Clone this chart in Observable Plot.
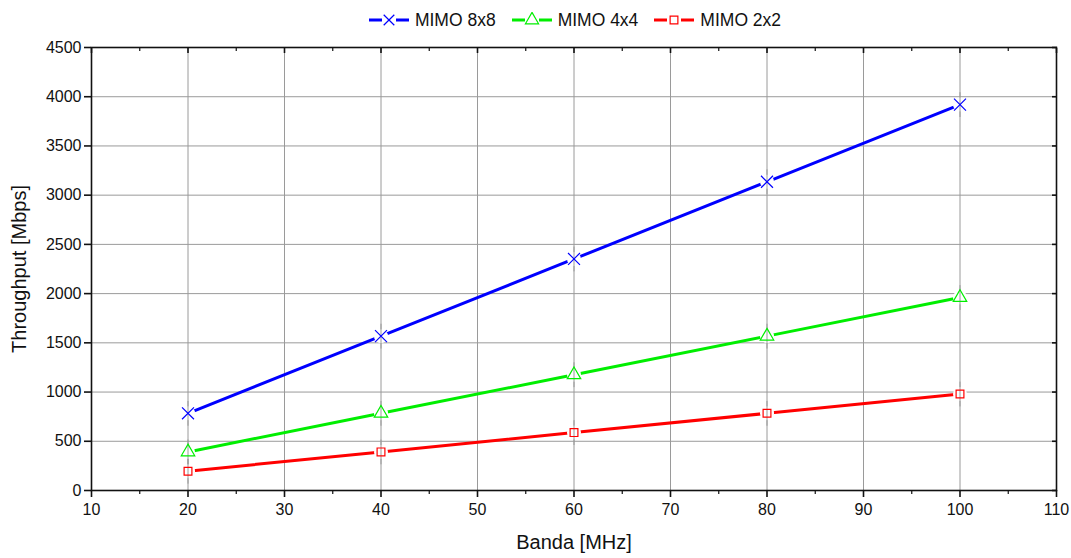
<!DOCTYPE html>
<html>
<head>
<meta charset="utf-8">
<script src="https://cdn.jsdelivr.net/npm/d3@7"></script>
<script src="https://cdn.jsdelivr.net/npm/@observablehq/plot@0.6"></script>
<style>
  body { margin: 0; background: #fff; font-family: "Liberation Sans", Arial, sans-serif; }
  #legend { height: 40px; display: flex; justify-content: center; align-items: center; gap: 15px; font-size: 17.5px; color: #111; padding-left: 78px; box-sizing: border-box; }
  #legend .item { display: flex; align-items: center; gap: 5px; }
  #legend svg { display: block; }
</style>
</head>
<body>
<div id="legend"></div>
<div id="chart"></div>
<script>
const bandwidth = [20, 40, 60, 80, 100];
const mimo8x8 = [784, 1568, 2352, 3136, 3920];
const mimo4x4 = [392, 784, 1176, 1568, 1960];
const mimo2x2 = [196, 392, 588, 784, 980];
const seriesNames = ["MIMO 8x8", "MIMO 4x4", "MIMO 2x2"];
const seriesColors = ["#0000ff", "#00ee00", "#ff0000"];
const seriesSymbols = ["times", "triangle", "square"];
const xTicks = [10, 20, 30, 40, 50, 60, 70, 80, 90, 100, 110];
const xMinor = [15, 25, 35, 45, 55, 65, 75, 85, 95, 105];
const yTicks = [0, 500, 1000, 1500, 2000, 2500, 3000, 3500, 4000, 4500];

const seriesValues = [mimo8x8, mimo4x4, mimo2x2];
const data = seriesNames.flatMap((name, i) =>
  bandwidth.map((b, j) => ({series: name, x: b, y: seriesValues[i][j]})));

const vline = {draw(ctx, size) { const r = Math.sqrt(size); ctx.moveTo(0, -r); ctx.lineTo(0, r); }};
const plain = d => String(d);

const marks = [
  Plot.gridX(xTicks.slice(1, -1), {stroke: "#9a9a9a", strokeOpacity: 1, strokeWidth: 1}),
  Plot.gridY(yTicks.slice(1, -1), {stroke: "#9a9a9a", strokeOpacity: 1, strokeWidth: 1}),
  Plot.line(data, {x: "x", y: "y", z: "series", stroke: "series", strokeWidth: 3}),
  Plot.dot(data, {x: "x", y: "y", r: 7, fill: "white", stroke: "none", symbol: "circle"}),
  Plot.dot(data, {x: "x", y: "y", r: 7, stroke: "#9a9a9a", strokeWidth: 1, symbol: vline}),
];
seriesNames.forEach((name, i) => {
  marks.push(Plot.dot(data.filter(d => d.series === name), {
    x: "x", y: "y", symbol: seriesSymbols[i], stroke: seriesColors[i], fill: "none",
    strokeWidth: 1.2, r: seriesSymbols[i] === "square" ? 4.4 : (seriesSymbols[i] === "triangle" ? 5 : 5.5)
  }));
});
marks.push(
  Plot.frame({stroke: "#111", strokeWidth: 1.6}),
  Plot.axisX(xTicks, {anchor: "bottom", tickSize: 7, tickPadding: 6, fontSize: 16, tickFormat: plain, label: null, stroke: "#111", strokeWidth: 1.6}),
  Plot.axisX(xMinor, {anchor: "bottom", tickSize: 4, tickFormat: () => "", label: null, stroke: "#111", strokeWidth: 1.2}),
  Plot.axisX(xTicks, {anchor: "top", tickSize: -5, tickFormat: () => "", label: null, stroke: "#111", strokeWidth: 1.6}),
  Plot.axisX(xMinor, {anchor: "top", tickSize: -3, tickFormat: () => "", label: null, stroke: "#111", strokeWidth: 1.2}),
  Plot.axisY(yTicks, {anchor: "left", tickSize: 7, tickPadding: 3, fontSize: 16, tickFormat: plain, label: null, stroke: "#111", strokeWidth: 1.6}),
  Plot.axisY(yTicks, {anchor: "right", tickSize: -5, tickFormat: () => "", label: null, stroke: "#111", strokeWidth: 1.6}),
  Plot.text(["Banda [MHz]"], {frameAnchor: "bottom", dy: 58, fontSize: 20, fill: "#111"}),
  Plot.text(["Throughput [Mbps]"], {frameAnchor: "left", textAnchor: "middle", dx: -72, rotate: -90, fontSize: 20, fill: "#111"})
);

const chart = Plot.plot({
  width: 1071,
  height: 518,
  marginTop: 7,
  marginBottom: 68,
  marginLeft: 91,
  marginRight: 15,
  style: {fontFamily: "'Liberation Sans', Arial, sans-serif", fontSize: "16px", color: "#111", background: "white"},
  x: {domain: [10, 110]},
  y: {domain: [0, 4500]},
  color: {domain: seriesNames, range: seriesColors},
  marks
});
document.getElementById("chart").appendChild(chart);

// Legend
const legend = d3.select("#legend");
seriesNames.forEach((name, i) => {
  const item = legend.append("div").attr("class", "item");
  const svg = item.append("svg").attr("width", 42).attr("height", 16);
  svg.append("line").attr("x1", 1).attr("x2", 41).attr("y1", 8).attr("y2", 8)
    .attr("stroke", seriesColors[i]).attr("stroke-width", 3);
  svg.append("rect").attr("x", 14).attr("y", 1).attr("width", 14).attr("height", 14).attr("fill", "white");
  const sym = {times: d3.symbolTimes, triangle: d3.symbolTriangle, square: d3.symbolSquare}[seriesSymbols[i]];
  svg.append("path").attr("transform", "translate(21,8)")
    .attr("d", d3.symbol(sym, seriesSymbols[i] === "square" ? 60 : 75)())
    .attr("fill", "none").attr("stroke", seriesColors[i]).attr("stroke-width", 1.2);
  item.append("span").text(name);
});
</script>
</body>
</html>
